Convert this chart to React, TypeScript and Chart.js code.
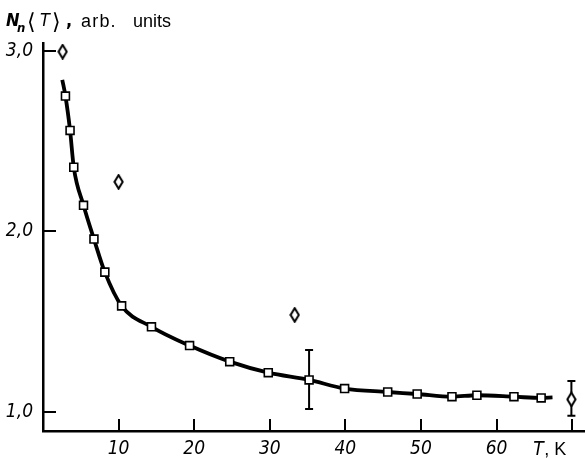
import React, { useEffect, useRef } from 'react';
import { Chart, registerables } from 'chart.js';

Chart.register(...registerables);

// Measured points (squares) of N_n<T>
const squareT = [2.97, 3.58, 4.07, 5.36, 6.74, 8.18, 10.4, 14.35, 19.39, 24.7, 29.8, 35.2, 39.9, 45.6, 49.5, 54.1, 57.4, 62.3, 65.9];
const squareV = [2.75, 2.56, 2.356, 2.145, 1.958, 1.775, 1.588, 1.472, 1.368, 1.279, 1.218, 1.178, 1.13, 1.111, 1.1, 1.085, 1.093, 1.085, 1.078];

// Solid curve through the data
const curveT = [2.55, 2.97, 3.58, 4.07, 5.36, 6.74, 8.18, 10.4, 14.35, 19.39, 24.7, 29.8, 35.2, 39.9, 45.6, 49.5, 54.1, 57.4, 62.3, 65.9, 67.4];
const curveV = [2.84, 2.75, 2.56, 2.356, 2.145, 1.958, 1.775, 1.588, 1.472, 1.368, 1.279, 1.218, 1.178, 1.13, 1.111, 1.1, 1.085, 1.093, 1.085, 1.078, 1.081];

// Diamonds
const diamondT = [2.6, 10.0, 33.3, 69.9];
const diamondV = [2.996, 2.275, 1.538, 1.07];

// Error bars
const errT = [35.2, 69.9];
const errLow = [1.017, 0.98];
const errHigh = [1.344, 1.172];

// Axes
const xTicks = [10, 20, 30, 40, 50, 60, 70];
const xTickLabels = ['10', '20', '30', '40', '50', '60', ''];
const yTicks = [1, 2, 3];
const yTickLabels = ['1,0', '2,0', '3,0'];

const TICK_FAMILY = "'Liberation Sans Narrow', 'DejaVu Sans Condensed', 'Liberation Sans', sans-serif";

function makeDiamond(): HTMLCanvasElement {
  const c = document.createElement('canvas');
  c.width = 11;
  c.height = 16;
  const g = c.getContext('2d')!;
  g.beginPath();
  g.moveTo(5.5, 1.2);
  g.lineTo(9.6, 8);
  g.lineTo(5.5, 14.8);
  g.lineTo(1.4, 8);
  g.closePath();
  g.fillStyle = '#fff';
  g.fill();
  g.lineWidth = 2;
  g.strokeStyle = '#000';
  g.stroke();
  return c;
}

const decorPlugin = {
  id: 'decor',
  beforeDatasetsDraw(chart: any) {
    const { ctx, scales } = chart;
    const x = scales.x, y = scales.y;
    ctx.save();
    ctx.strokeStyle = '#000';
    ctx.lineWidth = 2;
    errT.forEach((t, i) => {
      const px = x.getPixelForValue(t);
      const y1 = y.getPixelForValue(errLow[i]);
      const y2 = y.getPixelForValue(errHigh[i]);
      ctx.beginPath();
      ctx.moveTo(px, y1);
      ctx.lineTo(px, y2);
      ctx.moveTo(px - 4, y1);
      ctx.lineTo(px + 4, y1);
      ctx.moveTo(px - 4, y2);
      ctx.lineTo(px + 4, y2);
      ctx.stroke();
    });
    ctx.restore();
  },
  afterDraw(chart: any) {
    const { ctx, scales, chartArea } = chart;
    const x = scales.x, y = scales.y;
    ctx.save();
    ctx.strokeStyle = '#000';
    ctx.lineWidth = 2;
    ctx.beginPath();
    xTicks.forEach((t) => {
      const px = Math.round(x.getPixelForValue(t));
      ctx.moveTo(px, chartArea.bottom);
      ctx.lineTo(px, chartArea.bottom - 12);
    });
    yTicks.forEach((v) => {
      const py = Math.round(y.getPixelForValue(v));
      ctx.moveTo(chartArea.left, py);
      ctx.lineTo(chartArea.left + 13, py);
    });
    ctx.stroke();

    // x axis title "T, K"
    ctx.fillStyle = '#000';
    ctx.textBaseline = 'alphabetic';
    ctx.textAlign = 'left';
    const base = x.getPixelForValue(70);
    ctx.font = `italic 19px ${TICK_FAMILY}`;
    ctx.fillText('T', base - 39, 455);
    ctx.font = "18px 'Liberation Sans', sans-serif";
    ctx.fillText(',', base - 28, 455);
    ctx.fillText('K', base - 18, 455);

    // y axis title
    ctx.font = `italic bold 18px ${TICK_FAMILY}`;
    ctx.fillText('N', 6, 26);
    ctx.font = `italic bold 13px ${TICK_FAMILY}`;
    ctx.fillText('n', 17, 32);
    ctx.font = "22px 'DejaVu Sans', sans-serif";
    ctx.fillText('\u27E8', 27, 29);
    ctx.font = `italic 18px ${TICK_FAMILY}`;
    ctx.fillText('T', 40, 26);
    ctx.font = "22px 'DejaVu Sans', sans-serif";
    ctx.fillText('\u27E9', 52, 29);
    ctx.font = `bold 18px ${TICK_FAMILY}`;
    ctx.fillText(',', 66, 26);
    ctx.font = "18px 'Liberation Sans', sans-serif";
    (ctx as any).letterSpacing = '1.2px';
    ctx.fillText('arb.', 81, 27);
    (ctx as any).letterSpacing = '0px';
    ctx.fillText('units', 133, 27);
    ctx.restore();
  },
};

export default function App() {
  const ref = useRef<HTMLCanvasElement>(null);

  useEffect(() => {
    if (!ref.current) return;
    const diamond = makeDiamond();
    const chart = new Chart(ref.current, {
      type: 'scatter',
      data: {
        datasets: [
          {
            label: 'squares',
            data: squareT.map((t, i) => ({ x: t, y: squareV[i] })),
            pointStyle: 'rect',
            pointRadius: 5.6,
            pointBackgroundColor: '#fff',
            pointBorderColor: '#000',
            pointBorderWidth: 1.6,
            showLine: false,
            order: 1,
          },
          {
            label: 'diamonds',
            data: diamondT.map((t, i) => ({ x: t, y: diamondV[i] })),
            pointStyle: diamond,
            pointRadius: 6,
            showLine: false,
            order: 0,
            clip: false,
          } as any,
          {
            label: 'curve',
            data: curveT.map((t, i) => ({ x: t, y: curveV[i] })),
            showLine: true,
            borderColor: '#000',
            borderWidth: 3.8,
            pointRadius: 0,
            cubicInterpolationMode: 'monotone',
            order: 2,
          },
        ],
      },
      options: {
        animation: false,
        responsive: true,
        maintainAspectRatio: false,
        devicePixelRatio: 1,
        layout: { autoPadding: false, padding: { top: 43, right: 0, left: 0, bottom: 0 } },
        plugins: { legend: { display: false }, tooltip: { enabled: false }, title: { display: false } },
        events: [],
        scales: {
          x: {
            type: 'linear',
            min: 0,
            max: 71.7,
            afterBuildTicks: (s: any) => {
              s.ticks = xTicks.map((v) => ({ value: v }));
            },
            afterFit: (s: any) => {
              s.height = 27;
              s.paddingLeft = 0;
              s.paddingRight = 0;
            },
            ticks: {
              callback: (v: any) => {
                const i = xTicks.indexOf(Number(v));
                return i >= 0 ? xTickLabels[i] : '';
              },
              font: { family: TICK_FAMILY, size: 19, style: 'italic' },
              color: '#000',
              padding: 7,
              maxRotation: 0,
              autoSkip: false,
            },
            grid: { display: false, drawTicks: false },
            border: { display: true, color: '#000', width: 2.5 },
          },
          y: {
            type: 'linear',
            min: 0.895,
            max: 3.044,
            afterBuildTicks: (s: any) => {
              s.ticks = yTicks.map((v) => ({ value: v }));
            },
            afterFit: (s: any) => {
              s.width = 43;
              s.paddingTop = 0;
              s.paddingBottom = 0;
            },
            ticks: {
              callback: (v: any) => {
                const i = yTicks.indexOf(Number(v));
                return i >= 0 ? yTickLabels[i] : '';
              },
              font: { family: TICK_FAMILY, size: 19, style: 'italic' },
              color: '#000',
              padding: 10,
              autoSkip: false,
            },
            grid: { display: false, drawTicks: false },
            border: { display: true, color: '#000', width: 2.5 },
          },
        },
      },
      plugins: [decorPlugin],
    });
    return () => chart.destroy();
  }, []);

  return (
    <div style={{ position: 'fixed', left: 0, top: 0, width: 585, height: 458, background: '#fff' }}>
      <canvas ref={ref} />
    </div>
  );
}
